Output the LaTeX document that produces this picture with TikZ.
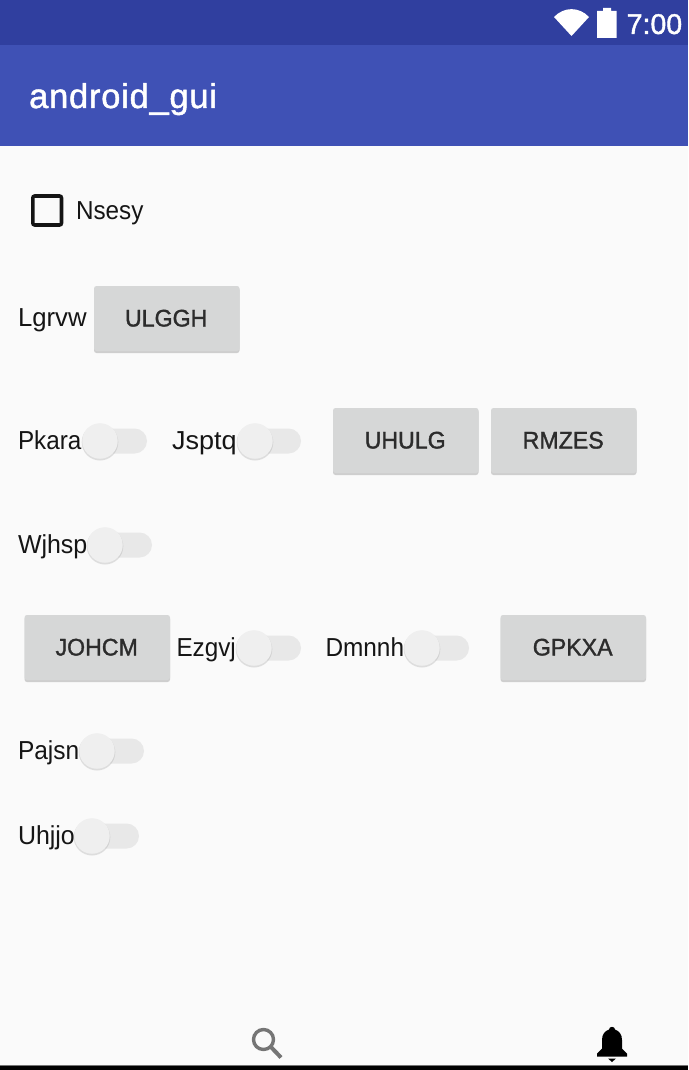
\documentclass[tikz,border=0pt]{standalone}
\usepackage{fontspec}
\setmainfont{Liberation Sans}
\newfontfamily\medfont[FakeBold=1.4]{Liberation Sans}
\newfontfamily\titlefont[FakeBold=1.4,LetterSpace=2.2]{Liberation Sans}
\definecolor{statusc}{HTML}{303F9F}
\definecolor{barc}{HTML}{3F51B5}
\definecolor{pagec}{HTML}{FAFAFA}
\definecolor{btnc}{HTML}{D6D7D7}
\definecolor{trackc}{HTML}{E8E8E8}
\definecolor{thumbc}{HTML}{EFEFEF}
\definecolor{labelc}{HTML}{151515}
\definecolor{iconc}{HTML}{757575}
\tikzset{
 lbl/.style={anchor=base west,inner sep=0pt,outer sep=0pt,text=labelc,font=\fontsize{26}{28}\selectfont,transform shape},
 btntext/.style={anchor=base,inner sep=0pt,text=labelc!90!white,font=\medfont\fontsize{24}{26}\selectfont,xscale=.965,transform shape},
 btnface/.style={fill=btnc,rounded corners=2.5pt},
 btnshade/.style={fill=black!30,opacity=.6,rounded corners=2.5pt},
 trackbar/.style={fill=trackc,rounded corners=12.5pt},
 thumbface/.style={fill=thumbc},
 thumbshade/.style={fill=black!30,opacity=.4}
}
\newcommand{\appbtn}[4]{% name, left, top, text
  \fill[btnshade] (#2,#3+1.5) rectangle (#2+145.5,#3+67);
  \fill[btnface] (#2,#3) rectangle (#2+145.5,#3+65);
  \node[btntext] (#1) at (#2+72.2,#3+40.5) {#4};
}
\newcommand{\appswitch}[4]{% name, thumb x, thumb y, track right
  \fill[trackbar] (#2-2,#3-12.5) rectangle (#4,#3+12.5);
  \fill[thumbshade] (#2,#3+1.2) circle (18.3);
  \node[circle,thumbface,minimum size=35.5pt,inner sep=0pt] (#1) at (#2,#3) {};
}
\begin{document}
\begin{tikzpicture}[x=1pt,y=-1pt]
\useasboundingbox (0,0) rectangle (688,1070);
\fill[pagec] (0,0) rectangle (688,1070);
\fill[statusc] (0,0) rectangle (688,45);
\fill[barc] (0,45) rectangle (688,146);
% status icons
\fill[white] (554,17) .. controls (564,6.5) and (579,6.5) .. (589,17) -- (571.5,36) -- cycle;
\fill[white] (603,11) -- (603,8) -- (611,8) -- (611,11) -- (616.5,11) -- (616.5,38) -- (597,38) -- (597,11) -- cycle;
\node[anchor=base west,inner sep=0pt,text=white,font=\medfont\fontsize{28.5}{30}\selectfont] (clock) at (626.5,34) {7:00};
\node[anchor=base west,inner sep=0pt,text=white,font=\titlefont\fontsize{34.5}{38}\selectfont] (title) at (29,108) {android\_gui};
% checkbox
\draw[line width=3.6pt,draw=black!92,rounded corners=2pt] (32.8,196) rectangle (61.5,225);
\node[lbl,xscale=.933] (nsesy) at (76,219) {Nsesy};
% rows
\node[lbl,xscale=.99] (lgrvw) at (18,326.5) {Lgrvw};
\appbtn{ulggh}{94}{286}{ULGGH}
\node[lbl,xscale=.933] (pkara) at (18,449.5) {Pkara};
\appswitch{swpkara}{100}{441}{147}
\node[lbl,xscale=1.04] (jsptq) at (172,449.5) {Jsptq};
\appswitch{swjsptq}{255}{441}{301}
\appbtn{uhulg}{333}{408}{UHULG}
\appbtn{rmzes}{491}{408}{RMZES}
\node[lbl,xscale=.96] (wjhsp) at (18,553) {Wjhsp};
\appswitch{swwjhsp}{105}{545}{152}
\appbtn{johcm}{24.5}{615}{JOHCM}
\node[lbl,xscale=.933] (ezgvj) at (176.5,656.5) {Ezgvj};
\appswitch{swezgvj}{254}{648}{301}
\node[lbl,xscale=.938] (dmnnh) at (325.5,656.5) {Dmnnh};
\appswitch{swdmnnh}{422}{648}{469}
\appbtn{gpkxa}{500.5}{615}{GPKXA}
\node[lbl,xscale=.942] (pajsn) at (18,759.5) {Pajsn};
\appswitch{swpajsn}{97}{751}{144}
\node[lbl,xscale=.96] (uhjjo) at (18,844.5) {Uhjjo};
\appswitch{swuhjjo}{92}{836}{139}
% bottom icons
\draw[iconc,line width=3.4pt] (263.5,1039.5) circle (10);
\draw[iconc,line width=4pt] (270.5,1046.5) -- (281,1057.5);
\fill[black] (597,1055) -- (597,1053.5) -- (602,1048.5) -- (602,1040)
  .. controls (602,1034) and (605,1031) .. (609,1029.5)
  .. controls (609,1026) and (615,1026) .. (615,1029.5)
  .. controls (619,1031) and (622,1034) .. (622,1040)
  -- (622,1048.5) -- (627,1053.5) -- (627,1056.5) -- (597,1056.5) -- cycle;
\fill[black] (608,1058.5) -- (616,1058.5) -- (612,1062) -- cycle;
\fill[black!55] (0,1064.5) rectangle (688,1065.5);
\fill[black] (0,1065.5) rectangle (688,1070);
\end{tikzpicture}
\end{document}
